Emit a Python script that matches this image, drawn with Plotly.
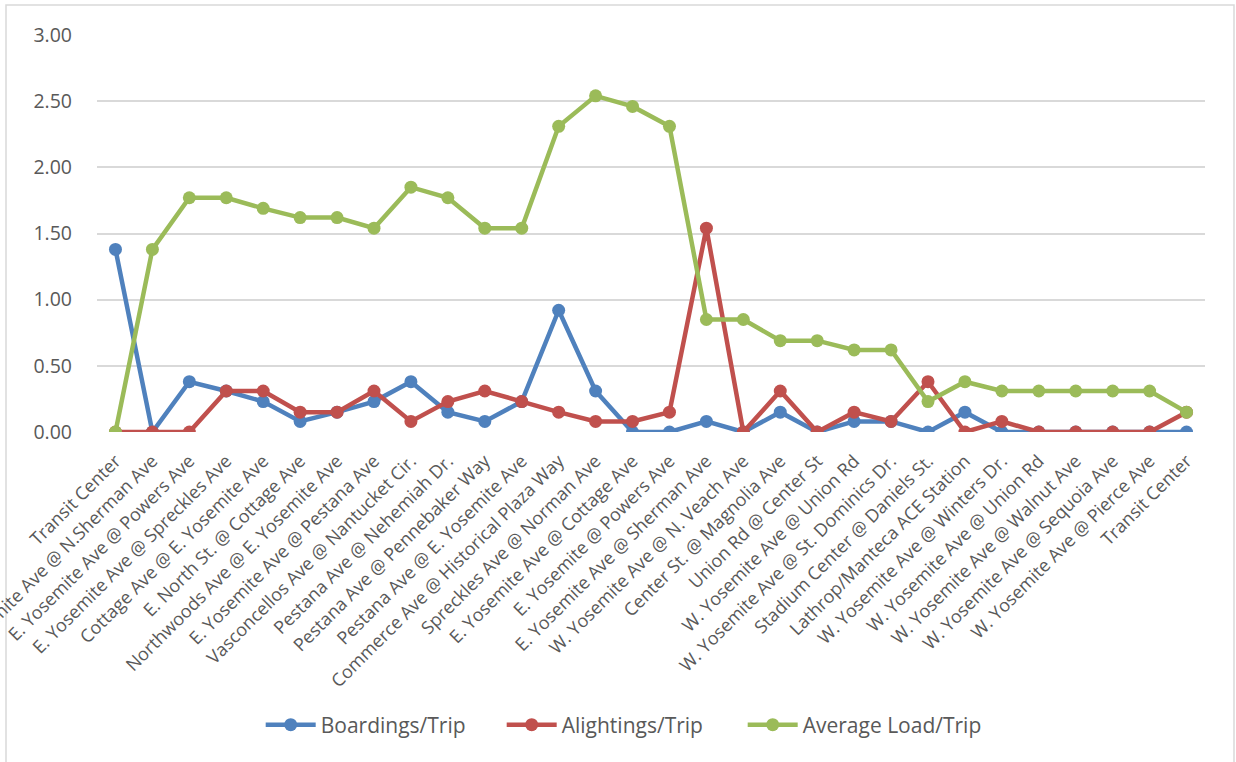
import plotly.graph_objects as go

stops = [
    "Transit Center",
    "E. Yosemite Ave @ N.Sherman Ave",
    "E. Yosemite Ave @ Powers Ave",
    "E. Yosemite Ave @ Spreckles Ave",
    "Cottage Ave @ E. Yosemite Ave",
    "E. North St. @ Cottage Ave",
    "Northwoods Ave @ E. Yosemite Ave",
    "E. Yosemite Ave @ Pestana Ave",
    "Vasconcellos Ave @ Nantucket Cir.",
    "Pestana Ave @ Nehemiah Dr.",
    "Pestana Ave @ Pennebaker Way",
    "Pestana Ave @ E. Yosemite Ave",
    "Commerce Ave @ Historical Plaza Way",
    "Spreckles Ave @ Norman Ave",
    "E. Yosemite Ave @ Cottage Ave",
    "E. Yosemite @ Powers Ave",
    "E. Yosemite Ave @ Sherman Ave",
    "W. Yosemite Ave @ N. Veach Ave",
    "Center St. @ Magnolia Ave",
    "Union Rd @ Center St",
    "W. Yosemite Ave @ Union Rd",
    "W. Yosemite Ave @ St. Dominics Dr.",
    "Stadium Center @ Daniels St.",
    "Lathrop/Manteca ACE Station",
    "W. Yosemite Ave @ Winters Dr.",
    "W. Yosemite Ave @ Union Rd",
    "W. Yosemite Ave @ Walnut Ave",
    "W. Yosemite Ave @ Sequoia Ave",
    "W. Yosemite Ave @ Pierce Ave",
    "Transit Center",
]

boardings = [1.38, 0.00, 0.38, 0.31, 0.23, 0.08, 0.15, 0.23, 0.38, 0.15,
             0.08, 0.23, 0.92, 0.31, 0.00, 0.00, 0.08, 0.00, 0.15, 0.00,
             0.08, 0.08, 0.00, 0.15, 0.00, 0.00, 0.00, 0.00, 0.00, 0.00]

alightings = [0.00, 0.00, 0.00, 0.31, 0.31, 0.15, 0.15, 0.31, 0.08, 0.23,
              0.31, 0.23, 0.15, 0.08, 0.08, 0.15, 1.54, 0.00, 0.31, 0.00,
              0.15, 0.08, 0.38, 0.00, 0.08, 0.00, 0.00, 0.00, 0.00, 0.15]

avg_load = [0.00, 1.38, 1.77, 1.77, 1.69, 1.62, 1.62, 1.54, 1.85, 1.77,
            1.54, 1.54, 2.31, 2.54, 2.46, 2.31, 0.85, 0.85, 0.69, 0.69,
            0.62, 0.62, 0.23, 0.38, 0.31, 0.31, 0.31, 0.31, 0.31, 0.15]

y_ticks = [0.0, 0.5, 1.0, 1.5, 2.0, 2.5, 3.0]

series = [
    ("Boardings/Trip", boardings, "#4F81BD"),
    ("Alightings/Trip", alightings, "#C0504D"),
    ("Average Load/Trip", avg_load, "#9BBB59"),
]

x = list(range(len(stops)))

fig = go.Figure()
for name, vals, color in series:
    fig.add_trace(go.Scatter(
        x=x, y=vals, name=name, mode="lines+markers",
        line=dict(color=color, width=4.5),
        marker=dict(color=color, size=13),
    ))

font_family = "Open Sans, Noto Sans, sans-serif"

fig.update_layout(
    width=1236, height=762,
    margin=dict(l=97, r=31, t=35, b=330, autoexpand=False),
    paper_bgcolor="white", plot_bgcolor="white",
    font=dict(family=font_family, color="#595959"),
    showlegend=True,
    legend=dict(orientation="h", x=0.474, xanchor="center", y=-0.738, yanchor="middle",
                font=dict(size=21, color="#595959"),
                itemwidth=50, entrywidth=176, entrywidthmode="pixels"),
    xaxis=dict(
        range=[-0.5, len(stops) - 0.5], automargin=False,
        tickmode="array", tickvals=x, ticktext=stops,
        tickangle=-45, showgrid=False, zeroline=False, showline=False,
        ticks="", tickfont=dict(size=18, color="#595959"),
        ticklabelstandoff=14, ticklabeloverflow="allow",
    ),
    yaxis=dict(
        range=[0, 3], automargin=False, tickmode="array", tickvals=y_ticks, tickformat=".2f",
        showgrid=True, gridcolor="#D9D9D9", gridwidth=1.5,
        zeroline=False, showline=False, ticks="",
        tickfont=dict(size=19.5, color="#595959"),
        ticklabelstandoff=24,
    ),
    shapes=[dict(type="rect", xref="paper", yref="paper",
                 x0=(6 - 97) / 1108, x1=(1234 - 97) / 1108,
                 y0=(432 - 770) / 397, y1=(432 - 5) / 397,
                 line=dict(color="#D9D9D9", width=1.5), layer="below")],
)

fig.write_html("out.html", config={"displayModeBar": False},
               post_script="document.body.style.margin='0';")
